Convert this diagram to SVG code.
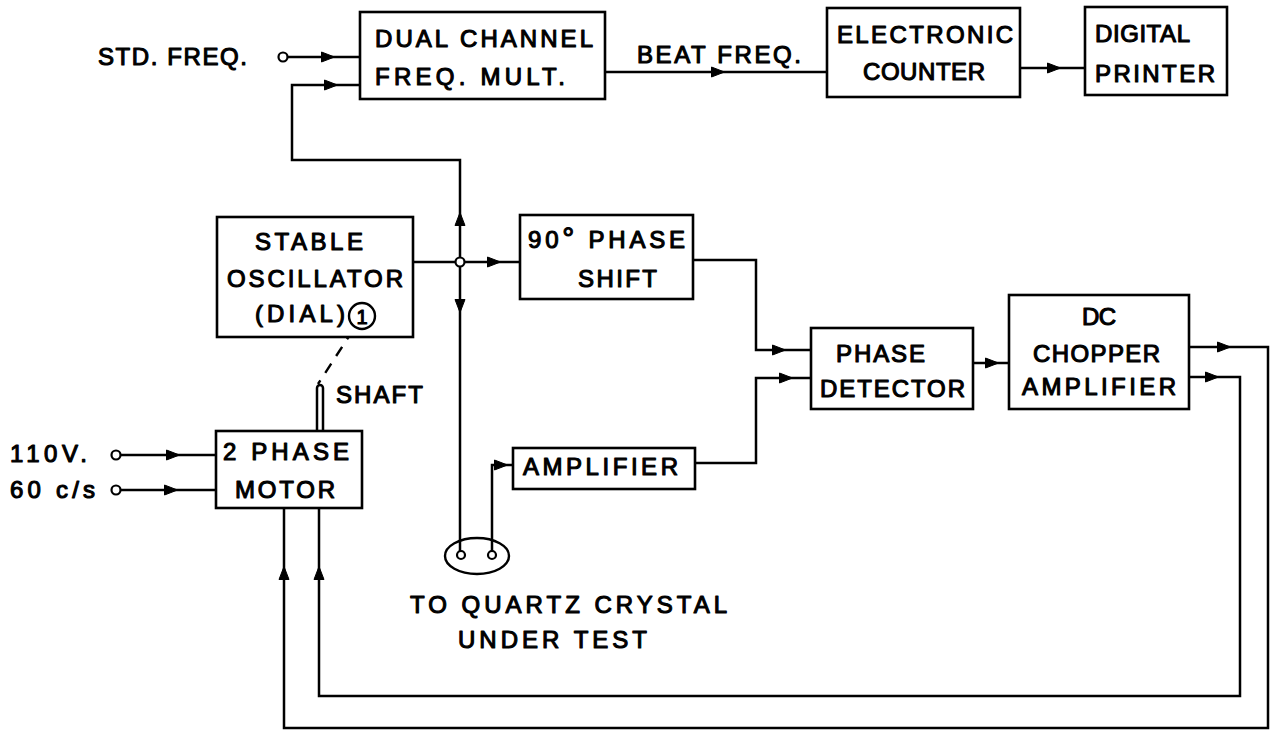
<svg xmlns="http://www.w3.org/2000/svg" xmlns:xlink="http://www.w3.org/1999/xlink" width="1270" height="732" viewBox="0 0 1270 732">
<style>
  .box { fill: #fff; stroke: #000; stroke-width: 2.6; }
  .wire { fill: none; stroke: #000; stroke-width: 2.5; stroke-linejoin: miter; }
  .term { fill: #fff; stroke: #000; stroke-width: 2.2; }
  .lbl { font-family: "Liberation Sans", Arial, sans-serif; font-size: 24px; fill: #000; stroke: #000; stroke-width: 1.1; stroke-linejoin: round; }
  .dash { fill: none; stroke: #000; stroke-width: 2.4; stroke-dasharray: 11 9; }
</style>
<defs>
  <path id="ah" d="M-6.5,-5 L6.5,0 L-6.5,5 Z" fill="#000" stroke="#000" stroke-width="1" stroke-linejoin="round"/>
</defs>
<rect width="1270" height="732" fill="#fff"/>

<g id="connectors">
  <!-- STD FREQ input -->
  <path class="wire" d="M287,57 H360"/>
  <use xlink:href="#ah" transform="translate(328,57)"/>
  <!-- feedback from oscillator to freq mult -->
  <path class="wire" d="M460,258 V160 H292 V85 H360"/>
  <use xlink:href="#ah" transform="translate(331,85)"/>
  <use xlink:href="#ah" transform="translate(460,219) rotate(-90)"/>
  <!-- beat freq -->
  <path class="wire" d="M605,72 H827"/>
  <use xlink:href="#ah" transform="translate(718,72)"/>
  <!-- counter to printer -->
  <path class="wire" d="M1020,68 H1085"/>
  <use xlink:href="#ah" transform="translate(1054,68)"/>
  <!-- oscillator output -->
  <path class="wire" d="M413,262 H456 M464,262 H520"/>
  <use xlink:href="#ah" transform="translate(494,262)"/>
  <!-- down to crystal -->
  <path class="wire" d="M460,266 V551"/>
  <use xlink:href="#ah" transform="translate(460,306) rotate(90)"/>
  <!-- crystal to amplifier -->
  <path class="wire" d="M492,551 V465 H513"/>
  <use xlink:href="#ah" transform="translate(501,465)"/>
  <!-- 90 phase shift to detector -->
  <path class="wire" d="M693,260 H756 V350 H811"/>
  <use xlink:href="#ah" transform="translate(779,350)"/>
  <!-- amplifier to detector -->
  <path class="wire" d="M695,463 H756 V378 H811"/>
  <use xlink:href="#ah" transform="translate(786,378)"/>
  <!-- detector to chopper -->
  <path class="wire" d="M973,363 H1009"/>
  <use xlink:href="#ah" transform="translate(992,363)"/>
  <!-- chopper outputs back to motor -->
  <path class="wire" d="M1189,347 H1268 V728 H284 V508"/>
  <use xlink:href="#ah" transform="translate(1224,347)"/>
  <use xlink:href="#ah" transform="translate(284,573) rotate(-90)"/>
  <path class="wire" d="M1189,377 H1240 V696 H319 V508"/>
  <use xlink:href="#ah" transform="translate(1212,377)"/>
  <use xlink:href="#ah" transform="translate(319,573) rotate(-90)"/>
  <!-- mains inputs -->
  <path class="wire" d="M120,455 H216"/>
  <use xlink:href="#ah" transform="translate(173,455)"/>
  <path class="wire" d="M120,490 H216"/>
  <use xlink:href="#ah" transform="translate(171,490)"/>
  <!-- dial to shaft -->
  <path class="dash" d="M353,330 L318,384"/>
  <path class="wire" d="M317,431 V388 A3,3 0 0 1 323,388 V431" stroke-width="2"/>
  <!-- terminals -->
  <circle class="term" cx="283" cy="57" r="4.5"/>
  <circle class="term" cx="460" cy="262" r="4.5"/>
  <circle class="term" cx="116" cy="455" r="4.5"/>
  <circle class="term" cx="116" cy="490" r="4.5"/>
</g>

<g id="crystal">
  <ellipse cx="477" cy="556" rx="32" ry="18" fill="none" stroke="#000" stroke-width="2.4"/>
  <circle class="term" cx="461" cy="555" r="4"/>
  <circle class="term" cx="492" cy="555" r="4"/>
  <text class="lbl" x="410" y="613" textLength="317" lengthAdjust="spacing">TO QUARTZ CRYSTAL</text>
  <text class="lbl" x="458" y="648" textLength="189" lengthAdjust="spacing">UNDER TEST</text>
</g>

<g id="labels">
  <text class="lbl" x="98" y="65" textLength="149" lengthAdjust="spacing">STD. FREQ.</text>
  <text class="lbl" x="637" y="63" textLength="164" lengthAdjust="spacing">BEAT FREQ.</text>
  <text class="lbl" x="336" y="403" textLength="87" lengthAdjust="spacing">SHAFT</text>
  <text class="lbl" x="10" y="462" textLength="77" lengthAdjust="spacing">110V.</text>
  <text class="lbl" x="10" y="498" textLength="85" lengthAdjust="spacing">60 c/s</text>
</g>

<g id="freq-mult">
  <rect class="box" x="360" y="12" width="245" height="87"/>
  <text class="lbl" x="375" y="47" textLength="218" lengthAdjust="spacing">DUAL CHANNEL</text>
  <text class="lbl" x="375" y="85" textLength="190" lengthAdjust="spacing">FREQ. MULT.</text>
</g>

<g id="counter">
  <rect class="box" x="827" y="8" width="193" height="89"/>
  <text class="lbl" x="837" y="43" textLength="176" lengthAdjust="spacing">ELECTRONIC</text>
  <text class="lbl" x="863" y="80" textLength="122" lengthAdjust="spacing">COUNTER</text>
</g>

<g id="printer">
  <rect class="box" x="1085" y="7" width="142" height="88"/>
  <text class="lbl" x="1095" y="42" textLength="95" lengthAdjust="spacing">DIGITAL</text>
  <text class="lbl" x="1095" y="82" textLength="120" lengthAdjust="spacing">PRINTER</text>
</g>

<g id="oscillator">
  <rect class="box" x="217" y="217" width="196" height="120"/>
  <text class="lbl" x="255" y="250" textLength="108" lengthAdjust="spacing">STABLE</text>
  <text class="lbl" x="227" y="287" textLength="176" lengthAdjust="spacing">OSCILLATOR</text>
  <text class="lbl" x="255" y="322" textLength="90" lengthAdjust="spacing">(DIAL)</text>
  <circle cx="362" cy="316" r="13" fill="none" stroke="#000" stroke-width="2.4"/>
  <text class="lbl" x="362" y="324" text-anchor="middle" style="font-size:20px">1</text>
</g>

<g id="phase-shift">
  <rect class="box" x="520" y="215" width="173" height="84"/>
  <text class="lbl" x="528" y="248" textLength="157" lengthAdjust="spacing">90<tspan style="font-size:30px">°</tspan> PHASE</text>
  <text class="lbl" x="578" y="287" textLength="79" lengthAdjust="spacing">SHIFT</text>
</g>

<g id="phase-detector">
  <rect class="box" x="811" y="328" width="162" height="81"/>
  <text class="lbl" x="836" y="362" textLength="89" lengthAdjust="spacing">PHASE</text>
  <text class="lbl" x="820" y="397" textLength="145" lengthAdjust="spacing">DETECTOR</text>
</g>

<g id="chopper">
  <rect class="box" x="1009" y="295" width="180" height="114"/>
  <text class="lbl" x="1082" y="325" textLength="34" lengthAdjust="spacing">DC</text>
  <text class="lbl" x="1033" y="362" textLength="127" lengthAdjust="spacing">CHOPPER</text>
  <text class="lbl" x="1022" y="395" textLength="154" lengthAdjust="spacing">AMPLIFIER</text>
</g>

<g id="motor">
  <rect class="box" x="216" y="431" width="146" height="77"/>
  <text class="lbl" x="223" y="460" textLength="126" lengthAdjust="spacing">2 PHASE</text>
  <text class="lbl" x="235" y="498" textLength="100" lengthAdjust="spacing">MOTOR</text>
</g>

<g id="amplifier">
  <rect class="box" x="513" y="448" width="182" height="41"/>
  <text class="lbl" x="523" y="475" textLength="155" lengthAdjust="spacing">AMPLIFIER</text>
</g>
</svg>
